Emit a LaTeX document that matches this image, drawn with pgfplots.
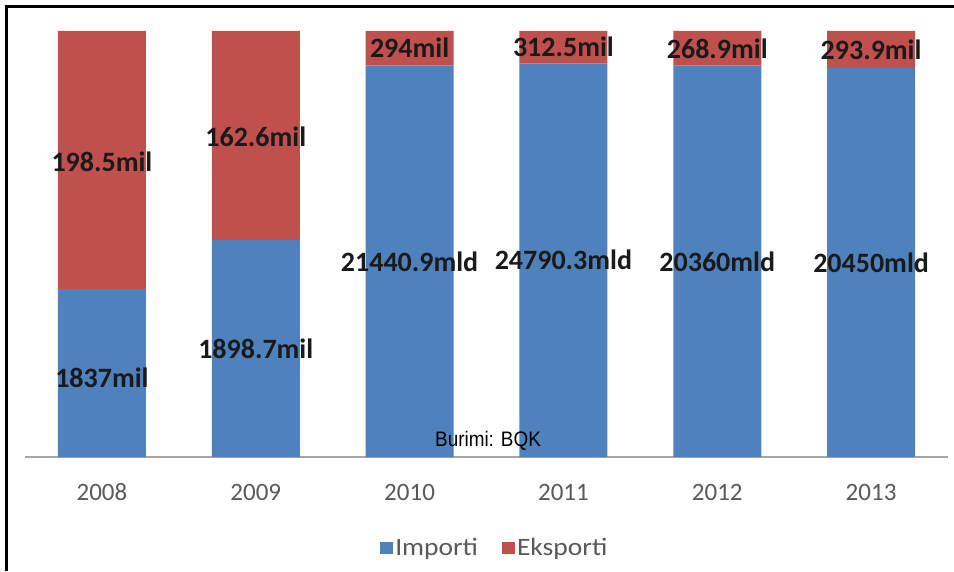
\documentclass[border=0pt]{standalone}
\usepackage{pgfplots}
\pgfplotsset{compat=1.18}
\usepackage{fontspec}
\setmainfont{Carlito}
\newfontfamily\libnarrow[FakeStretch=0.9]{Liberation Sans}
\newfontfamily\widefont[FakeStretch=1.1]{Carlito}
\definecolor{impblue}{HTML}{4F81BD}
\definecolor{expred}{HTML}{C0504D}
\definecolor{axgray}{HTML}{A6A6A6}
\definecolor{ticgray}{HTML}{595959}
\definecolor{labeltext}{HTML}{1A1A1A}
\begin{document}
\begin{tikzpicture}
\useasboundingbox (-25pt,-114pt) rectangle (929pt,457pt);
\draw[line width=2.5pt] (-18.5pt,-114pt) -- (-18.5pt,450.5pt) -- (929pt,450.5pt);
\begin{axis}[
  anchor=south west,
  width=923pt, height=426pt, scale only axis,
  ybar stacked, bar width=88pt,
  xmin=-0.5, xmax=5.5, ymin=0, ymax=100,
  axis y line=none, axis x line*=bottom,
  x axis line style={axgray, line width=2pt},
  xtick={0,1,2,3,4,5},
  xticklabels={2008,2009,2010,2011,2012,2013},
  major tick length=0pt,
  xticklabel style={anchor=center, yshift=-35pt, font=\fontsize{25}{25}\selectfont, text=ticgray},
  legend style={at={(0.509,-0.2136)}, anchor=center, draw=none, legend columns=2,
    font=\widefont\fontsize{25}{25}\selectfont, text=ticgray,
    /tikz/every even column/.append style={column sep=22pt}},
  legend image code/.code={\fill[#1] (0pt,-6pt) rectangle (13pt,6pt);},
  clip=false,
]
\addplot[fill=impblue, draw=none] coordinates {(0,39.4) (1,50.9) (2,91.9) (3,92.4) (4,91.9) (5,91.3)};
\addlegendentry{Importi}
\addplot[fill=expred, draw=none] coordinates {(0,60.6) (1,49.1) (2,8.1) (3,7.6) (4,8.1) (5,8.7)};
\addlegendentry{Eksporti}
\end{axis}
\begin{axis}[
  anchor=south west,
  width=923pt, height=426pt, scale only axis,
  xmin=-0.5, xmax=5.5, ymin=0, ymax=100,
  hide axis, clip=false,
]
\addplot[draw=none, mark=none, forget plot, nodes near coords, point meta=explicit symbolic,
  nodes near coords style={anchor=center, font=\bfseries\fontsize{28}{28}\selectfont, text=labeltext}]
  coordinates {(0,18.7)[1837mil] (1,25.4)[1898.7mil] (2,45.9)[21440.9mld] (3,46.3)[24790.3mld] (4,45.9)[20360mld] (5,45.6)[20450mld]};
\addplot[draw=none, mark=none, forget plot, nodes near coords, point meta=explicit symbolic,
  nodes near coords style={anchor=center, font=\bfseries\fontsize{28}{28}\selectfont, text=labeltext}]
  coordinates {(0,69.4)[198.5mil] (1,75.2)[162.6mil] (2,96.0)[294mil] (3,96.2)[312.5mil] (4,95.9)[268.9mil] (5,95.6)[293.9mil]};
\node[font=\libnarrow\fontsize{21}{21}\selectfont, text=black] at (axis cs:2.51,3.9) {Burimi: BQK};
\end{axis}
\end{tikzpicture}
\end{document}
